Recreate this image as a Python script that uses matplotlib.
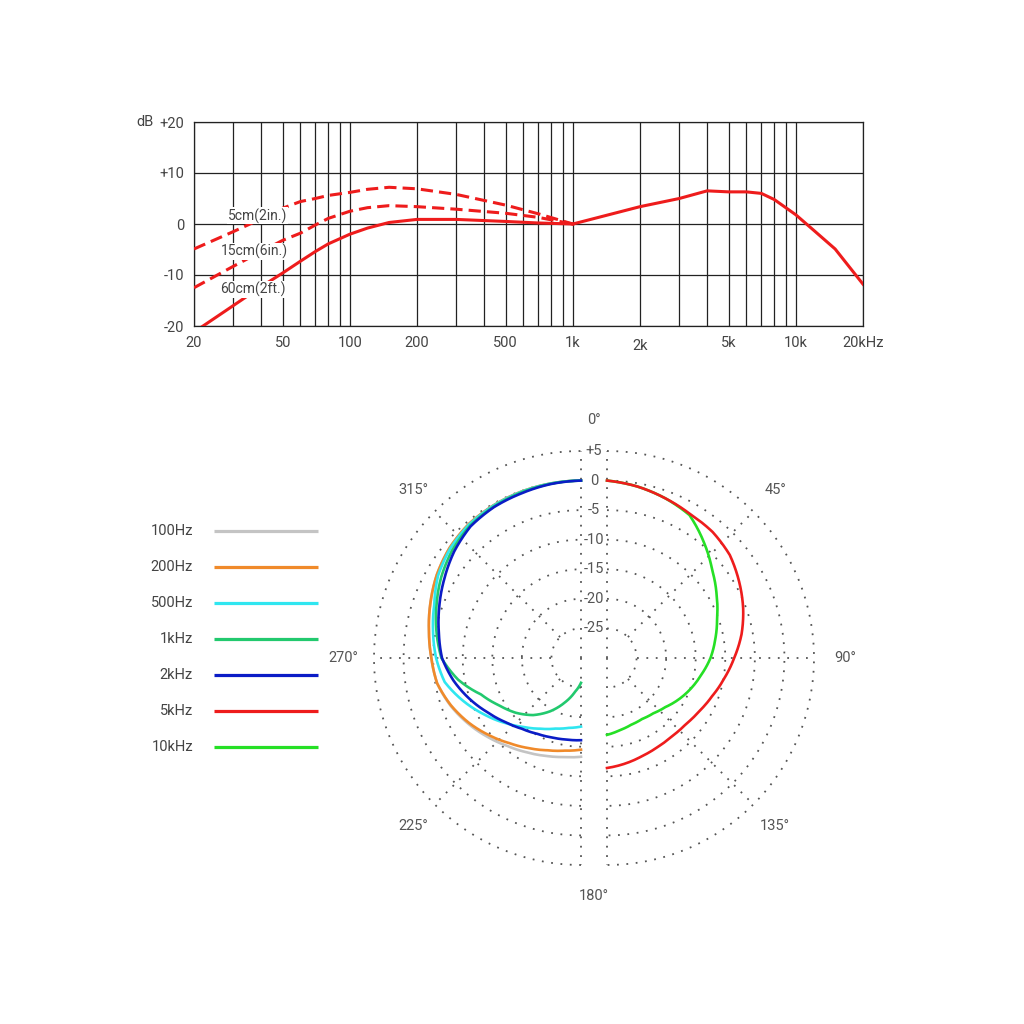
import numpy as np
import matplotlib
matplotlib.use("Agg")
import matplotlib.pyplot as plt
import matplotlib.transforms as mtrans

plt.rcParams['font.family'] = ['Roboto', 'DejaVu Sans']

# ---- frequency response (dB vs Hz) ----
freq_low = [20, 30, 40, 50, 60, 70, 80, 100, 120, 150, 200, 300, 500, 700, 1000]
db_5cm = [-4.9, -1.5, 1.0, 3.1, 4.4, 5.0, 5.6, 6.2, 6.8, 7.2, 6.9, 5.8, 3.7, 2.0, 0.0]
db_15cm = [-12.5, -8.3, -5.4, -3.2, -1.8, -0.2, 1.1, 2.5, 3.2, 3.6, 3.4, 2.9, 2.1, 1.3, 0.0]
db_60cm = [-21.2, -16.0, -12.3, -9.6, -7.3, -5.4, -3.9, -2.0, -0.8, 0.3, 0.9, 0.9, 0.5, 0.2, 0.0]
freq_high = [1000, 2000, 3000, 4000, 5000, 6000, 7000, 8000, 10000, 12000, 15000, 20000]
db_high = [0.0, 3.4, 5.0, 6.5, 6.3, 6.3, 6.0, 4.8, 1.8, -1.2, -4.9, -11.8]

dist_labels = ['5cm(2in.)', '15cm(6in.)', '60cm(2ft.)']
dist_label_pos = [(38.7, 1.6), (37.5, -5.3), (36.8, -12.9)]

xtick_vals = [20, 50, 100, 200, 500, 1000, 2000, 5000, 10000, 20000]
xtick_text = ['20', '50', '100', '200', '500', '1k', '2k', '5k', '10k', '20kHz']
ytick_vals = [-20, -10, 0, 10, 20]
ytick_text = ['-20', '-10', '0', '+10', '+20']

# ---- polar pattern (dB vs angle off axis, 0..180 deg) ----
angles = list(range(0, 181, 10))
db_100hz = [0, -0.05, -0.12, -0.25, -0.45, -1.0, -1.85, -2.9, -3.9, -4.7,
            -5.3, -6.5, -7.9, -9.3, -10.6, -11.6, -12.4, -13.0, -13.3]
db_200hz = [0, -0.05, -0.12, -0.25, -0.45, -1.0, -1.85, -2.9, -3.9, -4.7,
            -5.3, -6.6, -8.1, -9.7, -11.2, -12.4, -13.4, -14.1, -14.5]
db_500hz = [0, -0.05, -0.15, -0.3, -0.55, -1.15, -2.1, -3.6, -4.6, -5.5,
            -6.6, -8.8, -11.0, -13.0, -14.8, -16.2, -17.3, -18.0, -18.4]
db_1khz = [0, -0.1, -0.25, -0.45, -0.8, -1.6, -2.7, -4.0, -5.2, -6.4,
           -8.9, -12.0, -14.0, -15.6, -17.4, -19.6, -22.0, -24.2, -25.8]
db_2khz = [0, -0.15, -0.4, -0.55, -0.95, -2.0, -3.3, -4.5, -5.6, -6.5,
           -8.1, -9.9, -11.7, -13.2, -14.4, -15.2, -15.7, -16.0, -16.1]
db_5khz = [0, -0.55, -1.25, -1.9, -2.2, -2.9, -4.2, -5.5, -6.9, -8.5,
           -9.9, -11.1, -12.0, -12.6, -12.8, -12.7, -12.4, -11.9, -11.4]
db_10khz = [0, -0.55, -1.25, -2.1, -4.5, -6.8, -8.6, -10.2, -11.4, -12.5,
            -13.8, -14.9, -16.0, -17.1, -17.8, -18.1, -18.0, -17.6, -17.0]

left_names = ['100Hz', '200Hz', '500Hz', '1kHz', '2kHz']
left_data = [db_100hz, db_200hz, db_500hz, db_1khz, db_2khz]
right_names = ['5kHz', '10kHz']
right_data = [db_5khz, db_10khz]
colors = {'100Hz': '#c4c4c4', '200Hz': '#f08a2a', '500Hz': '#2fe6f0', '1kHz': '#22c96e',
          '2kHz': '#0b1cc6', '5kHz': '#ee1c1c', '10kHz': '#25e025'}
legend_order = ['100Hz', '200Hz', '500Hz', '1kHz', '2kHz', '5kHz', '10kHz']
ring_db = [-25, -20, -15, -10, -5, 0, 5]
ring_text = ['-25', '-20', '-15', '-10', '-5', '0', '+5']

RED = '#ee1c1c'
TXT = '#444444'
W = 1024.0

fig = plt.figure(figsize=(10.24, 10.24), dpi=100)

# ================= top: frequency response =================
ax = fig.add_axes([194 / W, 1 - 326 / W, 669 / W, 204 / W])
ax.set_xscale('log')
ax.set_xlim(20, 20000)
ax.set_ylim(-20, 20)

ax.plot(freq_low, db_60cm, color=RED, lw=2.2, zorder=3)
ax.plot(freq_low, db_15cm, color=RED, lw=2.2, dashes=(4, 2), zorder=3)
ax.plot(freq_low, db_5cm, color=RED, lw=2.2, dashes=(4, 2), zorder=3)
ax.plot(freq_high, db_high, color=RED, lw=2.2, zorder=3)

for txt, (fx, fy) in zip(dist_labels, dist_label_pos):
    ax.text(fx, fy, txt, ha='center', va='center', fontsize=10, color=TXT, zorder=5,
            bbox=dict(facecolor='white', edgecolor='none', pad=0.6))

grid_freqs = [m * 10 ** e for e in (1, 2, 3) for m in range(1, 10) if m * 10 ** e > 20]
grid_freqs += [10000]
ax.set_xticks(grid_freqs, minor=True)
ax.set_xticklabels([], minor=True)
ax.set_xticks(xtick_vals, xtick_text)
ax.set_yticks(ytick_vals, ytick_text)
ax.grid(True, which='both', axis='x', color='#222222', lw=0.9)
ax.grid(True, which='major', axis='y', color='#222222', lw=0.9)
ax.tick_params(which='both', length=0, labelsize=10.5, labelcolor=TXT)
ax.tick_params(axis='x', pad=7.5)
ax.tick_params(axis='y', pad=7)
for s in ax.spines.values():
    s.set_color('#222222')
    s.set_linewidth(0.9)
ax.annotate('dB', xy=(0, 20), xycoords=('axes fraction', 'data'), xytext=(-29, 0),
            textcoords='offset points', ha='right', va='center', fontsize=10.5, color=TXT)

# the "2k" label sits a little lower in the original
lbl_2k = ax.xaxis.get_major_ticks()[xtick_text.index('2k')].label1
lbl_2k.set_transform(lbl_2k.get_transform()
                     + mtrans.ScaledTranslation(0, -3 / 100, fig.dpi_scale_trans))

# ================= bottom: polar pattern =================
def polar_ax(center_px):
    r_px = 207
    pax = fig.add_axes([(center_px - r_px) / W, 1 - (658 + r_px) / W, 2 * r_px / W, 2 * r_px / W],
                       projection='polar')
    pax.set_theta_zero_location('N')
    pax.set_theta_direction(-1)
    pax.set_rlim(-30, 5)
    pax.axis('off')
    return pax


dot = dict(color='#555555', lw=1.3, linestyle=(0, (1, 4.2)), clip_on=False, zorder=1)

axl = polar_ax(581)
axr = polar_ax(607)
axm = polar_ax(594)

for pax, t0, spokes in ((axl, np.pi, (225, 270, 315)), (axr, 0.0, (45, 90, 135))):
    arc = np.linspace(t0, t0 + np.pi, 181)
    for r in ring_db:
        pax.plot(arc, np.full_like(arc, r), **dot)
    for s in spokes:
        pax.plot([np.radians(s)] * 2, [-25, 5], **dot)
    pax.plot([0, 0], [-30, 5], **dot)
    pax.plot([np.pi, np.pi], [-30, 5], **dot)


def curve(pax, theta, vals, color):
    ln, = pax.plot(theta, vals, color=color, lw=1.9, zorder=3, clip_on=False,
                   solid_joinstyle='round')
    # follow the polar grid between samples instead of drawing straight chords
    ln.get_path()._interpolation_steps = 10
    return ln


th = np.radians(angles)
for name, vals in zip(left_names, left_data):
    curve(axl, 2 * np.pi - th, vals, colors[name])
for name, vals in zip(right_names[::-1], right_data[::-1]):
    curve(axr, th, vals, colors[name])

lab = dict(ha='center', va='center', fontsize=10.5, color='#555555')
for deg in (225, 270, 315):
    axl.text(np.radians(deg), 10.2, f'{deg}°', **lab)
for deg in (45, 90, 135):
    axr.text(np.radians(deg), 10.2, f'{deg}°', **lab)
for deg in (0, 180):
    axm.text(np.radians(deg), 10.3, f'{deg}°', **lab)
for r, t in zip(ring_db, ring_text):
    axm.text(0, r, t, **lab)

# ================= legend =================
lax = fig.add_axes([140 / W, 1 - 765 / W, 190 / W, 252 / W])
lax.set_xlim(0, 190)
lax.set_ylim(6.5, -0.5)
lax.axis('off')
for i, name in enumerate(legend_order):
    lax.plot([74, 178], [i, i], color=colors[name], lw=2.3, solid_capstyle='butt')
    lax.text(53, i, name, ha='right', va='center', fontsize=10.5, color=TXT)

fig.savefig('out.png', dpi=100, facecolor='white')
